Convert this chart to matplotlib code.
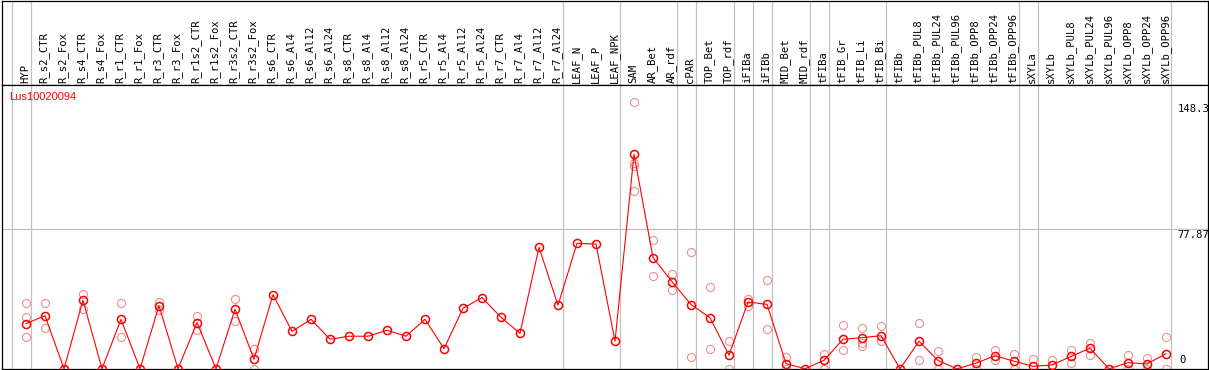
import matplotlib
matplotlib.use('Agg')
import matplotlib.pyplot as plt

### data
gene_name='Lus10020094'
samples=['HYP','R_s2_CTR','R_s2_Fox','R_s4_CTR','R_s4_Fox','R_r1_CTR','R_r1_Fox',
         'R_r3_CTR','R_r3_Fox','R_r1s2_CTR','R_r1s2_Fox','R_r3s2_CTR','R_r3s2_Fox',
         'R_s6_CTR','R_s6_Al4','R_s6_Al12','R_s6_Al24','R_s8_CTR','R_s8_Al4',
         'R_s8_Al12','R_s8_Al24','R_r5_CTR','R_r5_Al4','R_r5_Al12','R_r5_Al24',
         'R_r7_CTR','R_r7_Al4','R_r7_Al12','R_r7_Al24','LEAF_N','LEAF_P','LEAF_NPK',
         'SAM','AR_Bet','AR_rdf','cPAR','TOP_Bet','TOP_rdf','iFIBa','iFIBb',
         'MID_Bet','MID_rdf','tFIBa','tFIB_Gr','tFIB_Li','tFIB_Bi','tFIBb',
         'tFIBb_PUL8','tFIBb_PUL24','tFIBb_PUL96','tFIBb_OPP8','tFIBb_OPP24',
         'tFIBb_OPP96','sXYLa','sXYLb','sXYLb_PUL8','sXYLb_PUL24','sXYLb_PUL96',
         'sXYLb_OPP8','sXYLb_OPP24','sXYLb_OPP96']
means=[25.1,29.5,0,38.1,0,27.5,0,35.1,0,25.7,0,33.1,5.3,
       41.2,20.8,27.5,16.4,18.1,18.1,21.4,18.1,27.5,11.2,33.6,39.6,
       28.6,19.7,67.5,35.3,69.7,69.3,15.3,
       119.2,61.8,48.4,35.7,28.4,7.5,37.1,35.8,2.9,0,4.7,16.4,17.3,18.4,0,
       15.3,4.6,0,3.1,7.3,4.2,1.4,2.1,6.9,11.4,0,3.4,2.7,8.4]
# replicate values (sample index -> values)
replicates={0:[36.8,28.6,17.9],1:[36.4,22.9],3:[41.8,33.4],5:[36.8,17.9],
            7:[37.1,32.9],9:[29.5,21.8],11:[39.0,26.6],12:[10.8,0],
            32:[148.3,114.2,112.6,98.6],33:[71.8,51.8],34:[52.5,44.0],
            35:[65.1,6.4],36:[45.7,10.8],37:[15.3,0],38:[39.0,35.1],
            39:[49.6,21.9],40:[6.6,0],42:[8.0,0],43:[24.6,10.7],
            44:[22.9,14.3,12.7],45:[23.6,15.7],47:[25.7,5.1],48:[9.7,0],
            50:[6.4,0],51:[10.3,4.9],52:[8.4,0],53:[5.3],54:[4.7],
            55:[10.3,3.2],56:[14.5,7.9],58:[7.5,0],59:[5.8,0],60:[17.5,0]}
group_ends=[-1,0,28,31,34,35,37,38,39,41,42,45,52,53,60] # last sample of each group
y_ticks=[148.3,77.87,0]
y_tick_labels=['148.3','77.87','0']

W,H=1209,370
fig=plt.figure(figsize=(W/100,H/100),dpi=100)
xlim=((1.5-26)/19,(1207.5-26)/19)
grey='#c0c0c0'
mono='DejaVu Sans Mono'

### header with the sample names
head=fig.add_axes([1.5/W,285/H,1206/W,84.5/H])
head.set_xlim(xlim)
head.set_ylim(0,85)
head.set_xticks([]); head.set_yticks([])
for k,name in enumerate(samples):
    head.text(k-0.05,2,name,rotation=90,ha='center',va='bottom',
              family=mono,fontsize=7.6)
for g in group_ends:
    head.axvline(g+0.24,color=grey,lw=0.9,zorder=0)

### expression plot
ax=fig.add_axes([1.5/W,1.2/H,1206/W,283.8/H])
ax.set_xlim(xlim)
ax.set_ylim(0,(368.8-85)/1.8)
ax.set_xticks([]); ax.set_yticks([])
for g in group_ends:
    ax.axvline(g+0.24,color=grey,lw=0.9,zorder=0)
ax.axhline(77.87,color=grey,lw=0.9,zorder=0)
for s in list(head.spines.values())+list(ax.spines.values()):
    s.set_linewidth(0.9)

for k,vals in replicates.items():
    ax.plot([k]*len(vals),vals,'o',ms=5.8,mfc='none',mec='#ee8e8e',mew=0.8,zorder=2)
positions=list(range(len(samples)))
ax.plot(positions,means,'-',color='red',lw=0.8,zorder=3)
ax.plot(positions,means,'o',ms=5.8,mfc='none',mec='red',mew=1.1,zorder=4)

ax.text(9.3/W*0+(9.3-1.5)/1206,1-(96.7-85)/283.8,gene_name,color='red',
        transform=ax.transAxes,ha='left',va='center',family='Liberation Sans',fontsize=8)

tx=(1177.5-26)/19
for v,lab in zip(y_ticks,y_tick_labels):
    if v==0:
        ax.text(tx+0.08,2.0,lab,ha='left',va='bottom',family=mono,fontsize=7.6)
    else:
        ax.text(tx,v-1.0,lab,ha='left',va='top',family=mono,fontsize=7.6,clip_on=True)

plt.savefig('out.png',dpi=100)
